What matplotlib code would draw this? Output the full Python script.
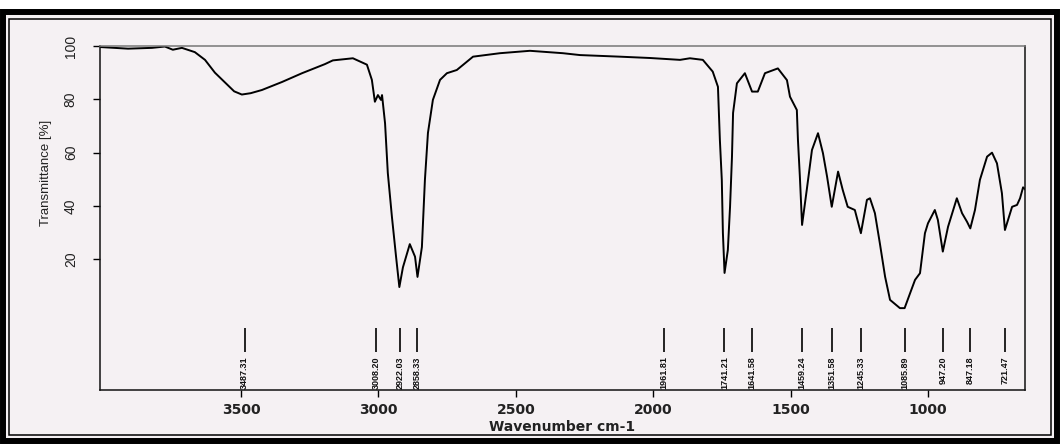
import matplotlib
matplotlib.use('Agg')
import matplotlib.pyplot as plt
from matplotlib.patches import Rectangle


# spectrum (wavenumber in cm-1, transmittance in %)
wavenumber = [4010, 3911, 3824, 3777, 3748, 3715, 3668, 3631, 3595, 3559, 3525, 3497, 3465, 3424, 3351,
              3278, 3195, 3166, 3093, 3042, 3024, 3013, 3002, 2991, 2987, 2976, 2966, 2951, 2936, 2924,
              2911, 2886, 2867, 2858, 2842, 2831, 2820, 2802, 2776, 2751, 2715, 2656, 2558, 2449, 2329,
              2267, 2122, 2012, 1903, 1867, 1820, 1784, 1765, 1758, 1751, 1747, 1741, 1729, 1721, 1714,
              1710, 1696, 1667, 1641, 1620, 1594, 1547, 1514, 1503, 1478, 1474, 1467, 1459, 1442, 1423,
              1401, 1383, 1368, 1351, 1328, 1311, 1293, 1267, 1245, 1223, 1212, 1194, 1176, 1157, 1139,
              1103, 1086, 1066, 1048, 1030, 1012, 1001, 976, 965, 947, 928, 896, 877, 859, 847,
              830, 812, 786, 768, 750, 732, 721, 695, 677, 666, 655, 648]
transmittance = [99.6, 99.0, 99.3, 99.8, 98.6, 99.3, 97.7, 94.8, 90.0, 86.4, 83.0, 81.8, 82.3, 83.5, 86.5,
                 89.8, 93.2, 94.6, 95.4, 93.0, 87.3, 79.1, 81.6, 79.8, 81.6, 71.0, 52.4, 35.9, 21.0, 9.6,
                 17.0, 25.7, 21.0, 13.4, 24.6, 49.8, 67.4, 79.8, 87.3, 89.8, 91.0, 96.0, 97.3, 98.2, 97.3,
                 96.6, 96.0, 95.5, 94.8, 95.4, 94.8, 90.4, 84.7, 64.8, 49.8, 29.9, 14.9, 23.5, 39.7, 58.4,
                 74.9, 86.0, 89.8, 82.9, 82.9, 89.8, 91.6, 87.2, 81.0, 76.0, 64.8, 51.0, 32.9, 46.0, 61.0,
                 67.3, 59.8, 51.0, 39.7, 52.9, 46.0, 39.7, 38.5, 29.8, 42.3, 42.9, 37.3, 26.0, 13.5, 4.8,
                 1.7, 1.7, 7.3, 12.3, 14.8, 29.8, 33.5, 38.5, 34.8, 22.9, 32.2, 42.9, 37.3, 34.1, 31.6,
                 38.5, 49.8, 58.5, 60.0, 56.0, 44.8, 31.0, 39.7, 40.4, 42.9, 47.0, 46.3]

peaks = [3487.31, 3008.20, 2922.03, 2858.33, 1961.81, 1741.21, 1641.58, 1459.24,
         1351.58, 1245.33, 1085.89, 947.20, 847.18, 721.47]

xticks = [3500, 3000, 2500, 2000, 1500, 1000]
yticks = [20, 40, 60, 80, 100]

paperColor = '#f5f1f3'
narrow = ['Liberation Sans Narrow', 'Liberation Sans', 'DejaVu Sans']


'''
frame of the scanned page (thick black border with a thin inner line)
'''
def DrawFrame(fig):
    W, H = 1060.0, 444.0
    fig.patches.append(Rectangle((0, 0), 1, 435 / H, transform=fig.transFigure,
                                 facecolor=paperColor, edgecolor='none', zorder=-10))
    fig.patches.append(Rectangle((3 / W, 3 / H), 1054 / W, 429 / H, transform=fig.transFigure,
                                 facecolor='none', edgecolor='black', linewidth=4.3, zorder=-5))
    fig.patches.append(Rectangle((9 / W, 9 / H), 1042 / W, 416 / H, transform=fig.transFigure,
                                 facecolor='none', edgecolor='black', linewidth=1.1, zorder=-5))


'''
plot the IR spectrum with the peak picking marks
'''
def PlotSpectrum(name):
    fig = plt.figure(figsize=(10.6, 4.44), dpi=100, facecolor='white')
    DrawFrame(fig)

    ax = fig.add_axes([100 / 1060, 54 / 444, 925 / 1060, 344 / 444])
    ax.set_zorder(5)
    ax.set_facecolor(paperColor)
    ax.plot(wavenumber, transmittance, color='black', linewidth=1.4)

    ax.vlines(peaks, -14.7, -5.7, color='black', linewidth=1.2)      # peak marks under the curve
    for p in peaks:
        ax.text(p, -16.3, '{:.2f}'.format(p), rotation=90, ha='center', va='top',
                fontsize=6.5, fontweight='bold', family=narrow, color='#111111')

    ax.set_xlim(4013, 648)
    ax.set_ylim(-29, 100)
    ax.set_xticks(xticks)
    ax.set_xticklabels([str(t) for t in xticks], fontsize=10, fontweight='bold',
                       family='DejaVu Sans', color='#222222')
    ax.set_yticks(yticks)
    ax.set_yticklabels([str(t) for t in yticks], rotation=90, va='center', fontsize=10,
                       family=narrow, color='#222222')
    ax.tick_params(axis='x', direction='out', length=5, width=1, pad=4)
    ax.tick_params(axis='y', direction='out', length=5, width=1, pad=11)

    for s in ['left', 'bottom', 'right']:
        ax.spines[s].set_color('#111111')
        ax.spines[s].set_linewidth(1.1)
    ax.spines['top'].set_color('#777777')
    ax.spines['top'].set_linewidth(1.1)

    ax.set_xlabel('Wavenumber cm-1', fontsize=10, fontweight='bold', family='DejaVu Sans', color='#222222')
    ax.xaxis.set_label_coords(0.5, -0.087)
    ax.set_ylabel('Transmittance [%]', fontsize=9.5, family=narrow, color='#222222')
    ax.yaxis.set_label_coords(-0.052, 0.63)

    fig.savefig(name, dpi=100, facecolor=fig.get_facecolor())
    plt.close(fig)


'''
Main part
'''
if __name__ == "__main__":
    PlotSpectrum('out.png')
